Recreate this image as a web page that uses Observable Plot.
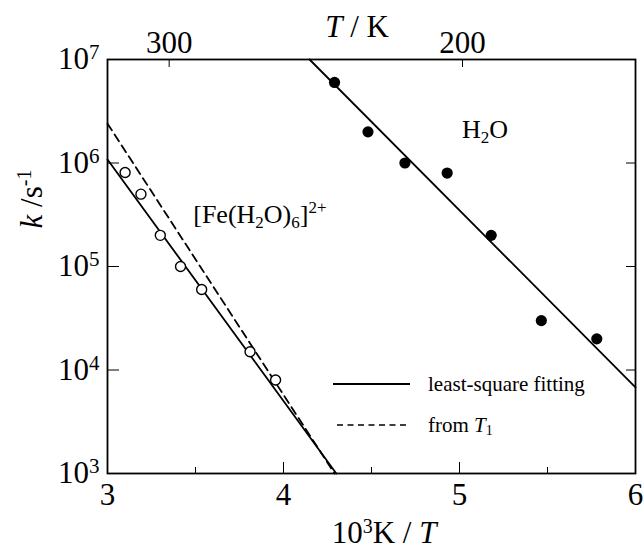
<!DOCTYPE html>
<html><head><meta charset="utf-8">
<script src="https://cdn.jsdelivr.net/npm/d3@7"></script>
<script src="https://cdn.jsdelivr.net/npm/@observablehq/plot@0.6"></script>
<style>
html,body{margin:0;padding:0;background:#fff;}
#chart{width:644px;height:549px;}
</style></head><body><div id="chart"></div>
<script>
// ---- data ----
const feX  = [3.10, 3.19, 3.30, 3.415, 3.535, 3.81, 3.955];
const feK  = [8.1e5, 5.0e5, 2.0e5, 1.0e5, 6.0e4, 1.5e4, 8.0e3];
const h2oX = [4.29, 4.48, 4.69, 4.93, 5.18, 5.465, 5.78];
const h2oK = [6.0e6, 2.0e6, 1.0e6, 8.0e5, 2.0e5, 3.0e4, 2.0e4];
const feFitX  = [3.0, 4.30];   const feFitK  = [1.08e6, 1.0e3];
const feT1X   = [3.0, 4.29];   const feT1K   = [2.4e6, 1.0e3];
const h2oFitX = [4.148, 6.0];  const h2oFitK = [1.0e7, 6.8e3];
const xTicks = [3, 4, 5, 6];
const xMinor = [3.5, 4.5, 5.5];
const yTicks = [1e3, 1e4, 1e5, 1e6, 1e7];
const tTicks = [300, 200];
const feLabelPos  = [3.49, 2.6e5];
const h2oLabelPos = [5.017, 1.73e6];
const legendNames = ["least-square fitting", "from T1"];

const rows = (xs, ks) => xs.map((x, i) => ({x, k: ks[i]}));
const FONT = "'Liberation Serif', 'Times New Roman', serif";

const plot = Plot.plot({
  width: 644, height: 549,
  marginLeft: 107, marginRight: 9, marginTop: 59, marginBottom: 76,
  style: {fontFamily: FONT, fontSize: "31px", background: "#fff", color: "#000"},
  x: {domain: [3, 6], label: null},
  y: {type: "log", domain: [1e3, 1e7], label: null},
  marks: [
    Plot.line(rows(h2oFitX, h2oFitK), {x: "x", y: "k", stroke: "#000", strokeWidth: 1.8}),
    Plot.line(rows(feFitX, feFitK), {x: "x", y: "k", stroke: "#000", strokeWidth: 1.8}),
    Plot.line(rows(feT1X, feT1K), {x: "x", y: "k", stroke: "#000", strokeWidth: 1.8, strokeDasharray: "8,5"}),
    Plot.dot(rows(feX, feK), {x: "x", y: "k", r: 5, fill: "#fff", stroke: "#000", strokeWidth: 1.4}),
    Plot.dot(rows(h2oX, h2oK), {x: "x", y: "k", r: 5.6, fill: "#000", stroke: "none"}),
    Plot.axisX({anchor: "bottom", ticks: xTicks, tickSize: -11, tickPadding: 20, fontSize: 31, label: null, tickFormat: d => String(d)}),
    Plot.axisX({anchor: "bottom", ticks: xMinor, tickSize: -6, tickFormat: () => "", label: null}),
    Plot.axisX({anchor: "top", ticks: tTicks.map(t => 1000 / t), tickSize: -7, tickPadding: 14, fontSize: 31, label: null,
                tickFormat: d => String(Math.round(1000 / d)), dx: 3}),
    Plot.axisY({anchor: "left", ticks: yTicks, tickSize: -12, tickPadding: 20, fontSize: 31, label: null,
                tickFormat: d => String(Math.round(Math.log10(d)))}),
    Plot.axisY({anchor: "right", ticks: yTicks, tickSize: -10, tickFormat: () => "", label: null}),
    Plot.frame({stroke: "#000", strokeWidth: 1.8})
  ]
});
document.getElementById("chart").appendChild(plot);

const svg = d3.select(plot);
const sx = plot.scale("x"), sy = plot.scale("y");

// rich text helper: parts = [[text, kind]] kind: n | i | sup | sub | subi
function rich(textSel, parts, small, raise, lower) {
  let off = 0;
  for (const [t, kind] of parts) {
    const ts = textSel.append("tspan").text(t);
    let target = 0;
    if (kind === "sup") { target = -raise; ts.attr("font-size", small); }
    else if (kind === "sub" || kind === "subi") { target = lower; ts.attr("font-size", small); }
    if (kind === "i" || kind === "subi") ts.attr("font-style", "italic");
    if (target !== off) { ts.attr("dy", target - off); off = target; }
  }
  return textSel;
}

// y tick labels as powers of ten
svg.selectAll('g[aria-label="y-axis tick label"] text').each(function () {
  const e = d3.select(this).text();
  if (!e) return;
  const t = d3.select(this).text("");
  rich(t, [["10", "n"], [e, "sup"]], 21, 10, 0);
});

const g = svg.append("g").attr("font-family", FONT).attr("fill", "#000").attr("text-anchor", "start");

// axis titles
rich(g.append("text").attr("x", 384).attr("y", 543).attr("text-anchor", "middle").attr("font-size", 31),
     [["10", "n"], ["3", "sup"], ["K / ", "n"], ["T", "i"]], 20, 10, 0);
rich(g.append("text").attr("x", 357).attr("y", 37).attr("text-anchor", "middle").attr("font-size", 31),
     [["T", "i"], [" / K", "n"]], 20, 9, 0);
rich(g.append("text").attr("transform", "translate(42,199) rotate(-90)").attr("text-anchor", "middle").attr("font-size", 31),
     [["k", "i"], [" /s", "n"], ["-1", "sup"]], 20, 11, 0);

// series labels
rich(g.append("text").attr("x", sx.apply(feLabelPos[0])).attr("y", sy.apply(feLabelPos[1])).attr("font-size", 26),
     [["[Fe(H", "n"], ["2", "sub"], ["O)", "n"], ["6", "sub"], ["]", "n"], ["2+", "sup"]], 17, 10, 5);
rich(g.append("text").attr("x", sx.apply(h2oLabelPos[0])).attr("y", sy.apply(h2oLabelPos[1])).attr("font-size", 26),
     [["H", "n"], ["2", "sub"], ["O", "n"]], 17, 10, 5);

// legend
const lg = svg.append("g").attr("font-family", FONT).attr("fill", "#000").attr("text-anchor", "start");
lg.append("line").attr("x1", 333).attr("x2", 410).attr("y1", 384).attr("y2", 384).attr("stroke", "#000").attr("stroke-width", 1.8);
lg.append("line").attr("x1", 337).attr("x2", 410).attr("y1", 425).attr("y2", 425).attr("stroke", "#000").attr("stroke-width", 1.6).attr("stroke-dasharray", "6,4.5");
lg.append("text").attr("x", 428).attr("y", 391).attr("font-size", 21).text(legendNames[0]);
rich(lg.append("text").attr("x", 428).attr("y", 432).attr("font-size", 21),
     [["from ", "n"], ["T", "i"], ["1", "sub"]], 14, 0, 3);
</script>
</body></html>
